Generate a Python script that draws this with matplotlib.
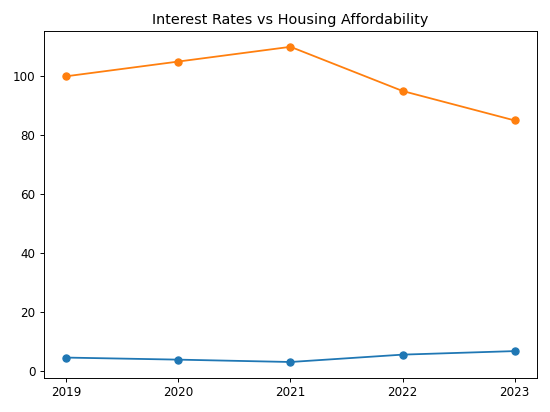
import matplotlib
matplotlib.use("Agg")
import matplotlib.pyplot as plt

years = [2019, 2020, 2021, 2022, 2023]
interest_rates = [4.5, 3.8, 3.0, 5.5, 6.7]
affordability = [100, 105, 110, 95, 85]

dpi = 550 / 6.4
fig, ax = plt.subplots(figsize=(6.4, 412 / dpi), dpi=dpi)
ax.plot(years, interest_rates, marker='o', color='#1f77b4')
ax.plot(years, affordability, marker='o', color='#ff7f0e')
ax.set_xticks(years)
ax.set_title('Interest Rates vs Housing Affordability')
fig.tight_layout()
fig.savefig('out.png', dpi=dpi)
